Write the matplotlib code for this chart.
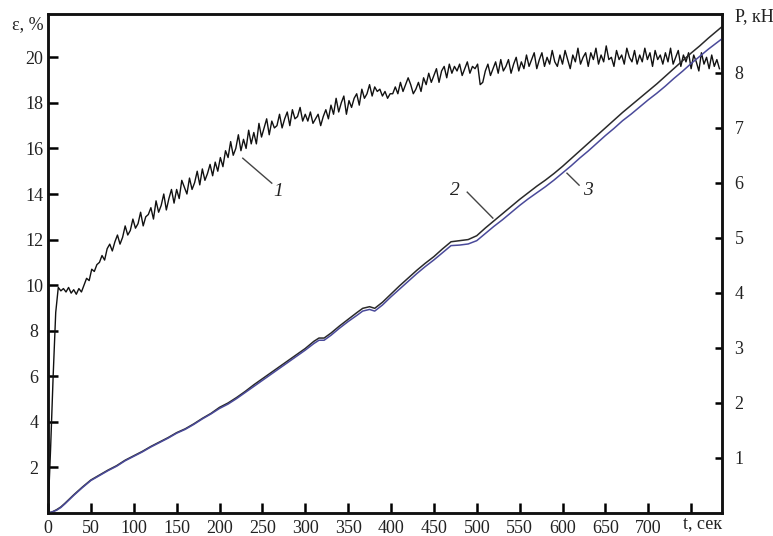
import numpy as np
import matplotlib
matplotlib.use("Agg")
import matplotlib.pyplot as plt

plt.rcParams['font.family'] = ['Liberation Serif', 'DejaVu Serif']

# ---- data ----
t_eps = np.arange(0, 786, 3)
eps = [
    0.0, 2.8, 6.0, 8.8, 9.9, 9.75, 9.85, 9.7, 9.9, 9.65,
    9.8, 9.6, 9.85, 9.7, 10.0, 10.3, 10.2, 10.7, 10.6, 10.9,
    11.0, 11.3, 11.1, 11.6, 11.8, 11.5, 11.9, 12.2, 11.8, 12.1,
    12.6, 12.2, 12.4, 12.9, 12.5, 12.7, 13.2, 12.6, 13.0, 13.1,
    13.4, 12.9, 13.7, 13.2, 13.5, 14.0, 13.3, 13.8, 14.2, 13.6,
    14.2, 13.8, 14.6, 14.3, 14.0, 14.7, 14.2, 14.5, 15.0, 14.4,
    15.1, 14.6, 14.9, 15.3, 14.8, 15.4, 15.0, 15.6, 15.2, 15.9,
    15.6, 16.3, 15.7, 16.0, 16.6, 15.9, 16.4, 16.0, 16.8, 16.2,
    16.7, 16.2, 17.1, 16.5, 16.9, 17.3, 16.6, 17.2, 16.9, 17.0,
    17.5, 16.9, 17.3, 17.6, 17.0, 17.7, 17.3, 17.4, 17.8, 17.2,
    17.5, 17.2, 17.6, 17.1, 17.3, 17.5, 17.0, 17.4, 17.7, 17.3,
    17.9, 17.5, 18.2, 17.6, 18.0, 18.3, 17.5, 18.1, 17.8, 18.2,
    18.4, 17.9, 18.6, 18.2, 18.4, 18.8, 18.3, 18.7, 18.5, 18.6,
    18.3, 18.5, 18.2, 18.4, 18.4, 18.7, 18.4, 18.9, 18.5, 18.8,
    19.1, 18.8, 18.4, 18.6, 18.9, 18.5, 19.1, 18.8, 19.3, 18.9,
    19.2, 19.5, 18.9, 19.4, 19.6, 19.1, 19.7, 19.3, 19.6, 19.4,
    19.7, 19.2, 19.5, 19.8, 19.3, 19.6, 19.5, 19.7, 18.8, 18.9,
    19.4, 19.7, 19.2, 19.5, 19.8, 19.3, 19.9, 19.4, 19.6, 19.9,
    19.3, 19.7, 20.0, 19.4, 19.8, 19.5, 20.1, 19.6, 19.9, 20.2,
    19.5, 19.9, 20.2, 19.6, 20.0, 19.7, 20.3, 19.8, 19.6, 20.1,
    19.7, 20.3, 19.9, 19.5, 20.1, 19.8, 20.4, 19.7, 20.0, 20.2,
    19.6, 20.2, 19.9, 20.4, 19.7, 20.1, 19.8, 20.5, 19.9, 20.0,
    19.6, 20.3, 19.9, 20.1, 19.7, 20.4, 20.0, 19.8, 20.3, 19.7,
    20.1, 19.8, 20.4, 19.9, 20.2, 19.6, 20.3, 19.9, 20.1, 19.7,
    20.2, 19.8, 20.4, 19.7, 20.0, 20.3, 19.6, 20.1, 19.8, 20.2,
    19.5, 20.1, 19.8, 19.4, 20.2, 19.7, 20.0, 19.5, 20.1, 19.6,
    19.9, 19.5,
]

t_p = [0, 5, 10, 15, 20, 30, 40, 50, 60, 70, 80, 90, 100, 110, 120, 130, 140,
       150, 160, 170, 180, 190, 200, 210, 220, 230, 240, 250, 260, 270, 280,
       290, 300, 310, 316, 322, 330, 340, 350, 360, 367, 375, 381, 390, 400,
       410, 420, 430, 440, 450, 460, 470, 480, 490, 500, 510, 520, 530, 540,
       550, 560, 570, 580, 590, 600, 610, 620, 630, 640, 650, 660, 670, 680,
       690, 700, 710, 720, 730, 740, 750, 760, 770, 786]
p2 = [0, 0.02, 0.06, 0.11, 0.18, 0.33, 0.47, 0.60, 0.69, 0.78, 0.86, 0.96,
      1.04, 1.12, 1.21, 1.29, 1.37, 1.46, 1.53, 1.62, 1.72, 1.81, 1.92, 2.00,
      2.10, 2.21, 2.33, 2.44, 2.55, 2.66, 2.77, 2.88, 2.99, 3.12, 3.18, 3.18,
      3.27, 3.40, 3.52, 3.64, 3.72, 3.75, 3.72, 3.83, 3.98, 4.13, 4.27, 4.41,
      4.54, 4.66, 4.80, 4.93, 4.95, 4.97, 5.04, 5.18, 5.31, 5.44, 5.57, 5.70,
      5.82, 5.94, 6.05, 6.17, 6.30, 6.44, 6.58, 6.72, 6.86, 7.00, 7.14, 7.28,
      7.41, 7.54, 7.67, 7.80, 7.94, 8.08, 8.22, 8.36, 8.49, 8.63, 8.84]
p3 = [0, 0.02, 0.05, 0.10, 0.17, 0.32, 0.46, 0.59, 0.68, 0.77, 0.85, 0.95,
      1.03, 1.11, 1.20, 1.28, 1.36, 1.45, 1.52, 1.61, 1.71, 1.80, 1.90, 1.98,
      2.08, 2.19, 2.30, 2.41, 2.52, 2.63, 2.74, 2.85, 2.96, 3.08, 3.14, 3.14,
      3.23, 3.36, 3.48, 3.59, 3.67, 3.70, 3.67, 3.78, 3.93, 4.07, 4.21, 4.35,
      4.48, 4.60, 4.73, 4.86, 4.87, 4.89, 4.95, 5.08, 5.21, 5.33, 5.46, 5.59,
      5.71, 5.82, 5.93, 6.05, 6.18, 6.31, 6.45, 6.58, 6.72, 6.86, 6.99, 7.13,
      7.25, 7.38, 7.51, 7.63, 7.76, 7.90, 8.03, 8.17, 8.30, 8.43, 8.62]

x_ticks = list(range(0, 751, 50))
x_labels = [str(v) for v in range(0, 701, 50)] + [""]
eps_ticks = list(range(2, 21, 2))
p_ticks = list(range(1, 9))

# ---- figure ----
W, H = 773, 536
fig = plt.figure(figsize=(W / 100, H / 100), dpi=100)
L, R, B, T = 48, 722, 513, 14
ax = fig.add_axes([L / W, (H - B) / H, (R - L) / W, (B - T) / H])
ax2 = ax.twinx()

txt = '#222222'
ax.plot(t_eps, eps, color='#111111', lw=1.0)
ax2.plot(t_p, p2, color='#2a2a2a', lw=1.1)
ax2.plot(t_p, p3, color='#4a4a9a', lw=1.1)

ax.set_xlim(0, 786)
ax.set_ylim(0, 21.9)
ax2.set_ylim(0, 9.07)

ax.set_xticks(x_ticks)
ax.set_xticklabels(x_labels)
ax.set_yticks(eps_ticks)
ax2.set_yticks(p_ticks)

for a in (ax, ax2):
    for s in a.spines.values():
        s.set_linewidth(1.8)
        s.set_color('#111111')

ax.tick_params(axis='x', direction='in', length=7, width=1.8, pad=5,
               labelsize=13, labelcolor=txt, top=False)
ax.tick_params(axis='y', direction='in', length=7, width=1.8, pad=10,
               labelsize=13, labelcolor=txt, right=False)
for lbl in ax.get_yticklabels():
    lbl.set_horizontalalignment('center')
ax2.tick_params(axis='y', direction='in', length=5, width=1.8, pad=9,
                labelsize=13, labelcolor=txt)

# axis titles
fig.text(44 / W, 1 - 25 / H, "ε, %", ha='right', va='center', fontsize=13, color=txt)
fig.text(735 / W, 1 - 17 / H, "P, кН", ha='left', va='center', fontsize=13, color=txt)
fig.text(703 / W, 1 - 524 / H, "t, сек", ha='center', va='center', fontsize=13, color=txt)

# curve labels with leaders (axes fraction)
def leader(p0, p1, label, lpos):
    ax.plot([p0[0], p1[0]], [p0[1], p1[1]], transform=ax.transAxes,
            color='#444444', lw=1.0)
    ax.text(lpos[0], lpos[1], label, transform=ax.transAxes, ha='center',
            va='center', fontsize=14, style='italic', color=txt)

leader((0.289, 0.711), (0.332, 0.661), "1", (0.341, 0.645))
leader((0.622, 0.643), (0.660, 0.591), "2", (0.604, 0.647))
leader((0.770, 0.681), (0.788, 0.657), "3", (0.801, 0.647))

fig.savefig("out.png", dpi=100)
